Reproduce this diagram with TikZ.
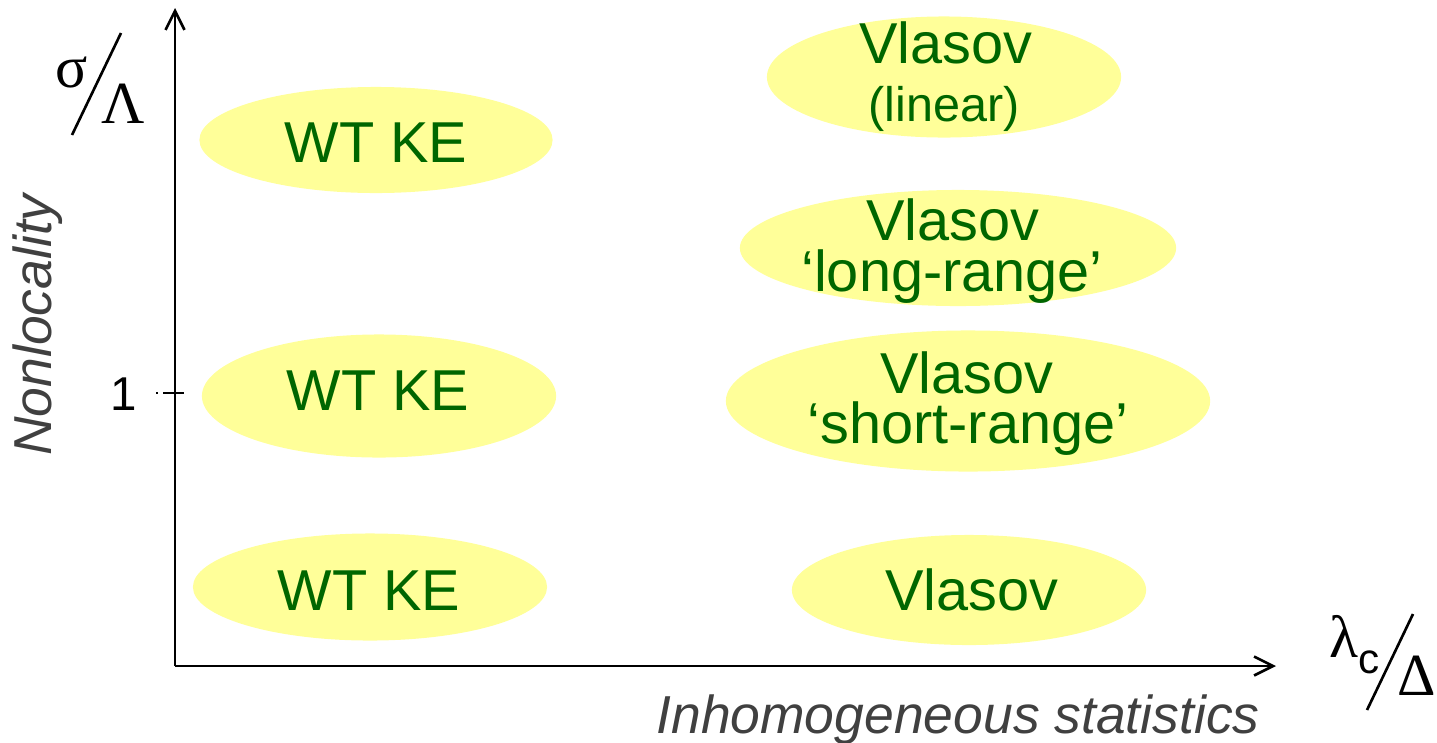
\documentclass[tikz,border=0pt]{standalone}
\usepackage{fontspec}
\setmainfont{Liberation Sans}
\newfontfamily\serifgr{Liberation Serif}
\usetikzlibrary{shapes.geometric,arrows.meta}
\definecolor{blobfill}{RGB}{255,255,153}
\definecolor{blobtext}{RGB}{0,102,0}
\definecolor{axgray}{RGB}{64,64,64}
\tikzset{
  blob/.style={ellipse,fill=blobfill,draw=none,inner sep=0pt},
  lbl/.style={text=blobtext,font=\fontsize{16.4}{16.4}\selectfont,anchor=base,inner sep=0pt},
  smalllbl/.style={text=blobtext,font=\fontsize{13.8}{13.8}\selectfont,anchor=base,inner sep=0pt},
  axis/.style={line width=0.75pt,-{Straight Barb[length=0.19cm,width=0.19cm,line width=0.75pt]}},
  axlbl/.style={text=axgray,font=\fontsize{15.2}{15.2}\selectfont\itshape,inner sep=0pt},
  greek/.style={font=\serifgr\fontsize{17}{17}\selectfont,inner sep=0pt,anchor=base},
}
\begin{document}
\begin{tikzpicture}[x=0.01cm,y=-0.01cm]
\useasboundingbox (0,0) rectangle (1437,742);
% axes
\coordinate (o) at (175,666);
\coordinate (ytop) at (175,8);
\coordinate (xend) at (1276,666);
\draw[axis] (o) -- (ytop);
\draw[axis] (o) -- (xend);
% tick at 1
\coordinate (t1) at (163,393);
\coordinate (t2) at (184,393);
\draw[line width=0.7pt] (t1) -- (t2);
\coordinate (d1) at (156,393);
\coordinate (d2) at (158,393);
\draw[line width=0.6pt] (d1) -- (d2);
\node[font=\fontsize{13.5}{13.5}\selectfont,anchor=base,inner sep=0pt] (one) at (124,410) {1};
% ellipses
\node[blob,minimum width=3.53cm,minimum height=1.06cm] (e1) at (376,140) {};
\node[blob,minimum width=3.54cm,minimum height=1.23cm] (e2) at (379,396) {};
\node[blob,minimum width=3.54cm,minimum height=1.07cm] (e3) at (370,587) {};
\node[blob,minimum width=3.54cm,minimum height=1.21cm] (e4) at (944,77) {};
\node[blob,minimum width=4.36cm,minimum height=1.16cm] (e5) at (958,248) {};
\node[blob,minimum width=4.84cm,minimum height=1.41cm] (e6) at (968,401) {};
\node[blob,minimum width=3.54cm,minimum height=1.10cm] (e7) at (969,590) {};
% labels
\node[lbl] (l1) at (376,162) {WT KE};
\node[lbl] (l2) at (378,410) {WT KE};
\node[lbl] (l3) at (369,610) {WT KE};
\node[lbl] (l4a) at (946,63) {Vlasov};
\node[smalllbl] (l4b) at (944,121) {(linear)};
\node[lbl] (l5a) at (953,240) {Vlasov};
\node[lbl] (l5b) at (952,291) {‘long-range’};
\node[lbl] (l6a) at (967,393) {Vlasov};
\node[lbl] (l6b) at (968,443) {‘short-range’};
\node[lbl] (l7) at (972,610) {Vlasov};
% axis titles
\node[axlbl,rotate=90] (ny) at (38,325) {Nonlocality};
\node[axlbl,anchor=base] (nx) at (958,733) {Inhomogeneous statistics};
% sigma / Lambda
\node[greek] (sig) at (72,87) {σ};
\coordinate (s1) at (72,135);
\coordinate (s2) at (121,33);
\draw[line width=0.75pt] (s1) -- (s2);
\node[greek] (Lam) at (123,123) {Λ};
% lambda_c / Delta
\node[greek] (lam) at (1344,657) {λ};
\node[font=\fontsize{12}{12}\selectfont,inner sep=0pt,anchor=base] (csub) at (1369,673) {c};
\coordinate (q1) at (1367,710);
\coordinate (q2) at (1413,614);
\draw[line width=0.75pt] (q1) -- (q2);
\node[greek] (Del) at (1417,695) {Δ};
\end{tikzpicture}
\end{document}
